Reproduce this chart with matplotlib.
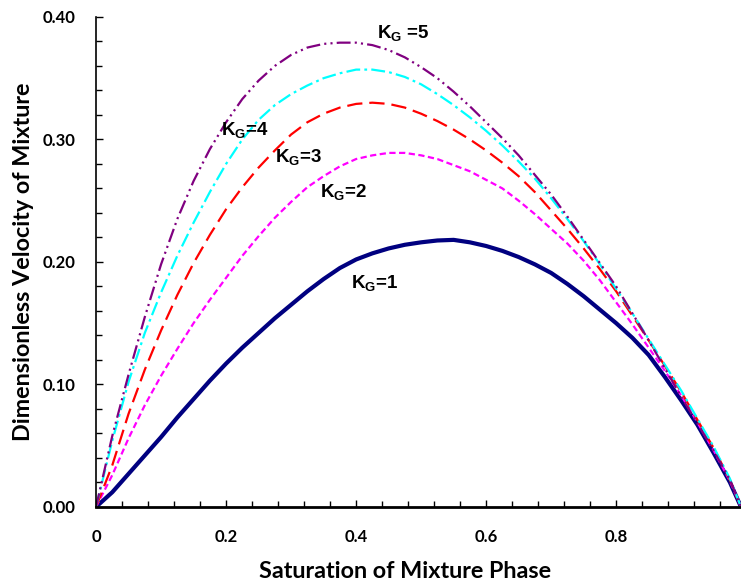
import matplotlib
import matplotlib.pyplot as plt
from matplotlib.ticker import MultipleLocator, FixedLocator, FixedFormatter, FormatStrFormatter

matplotlib.use('Agg')

plt.rcParams['font.family'] = 'Lato'
plt.rcParams['font.weight'] = 'bold'
plt.rcParams['mathtext.fontset'] = 'custom'
plt.rcParams['mathtext.rm'] = 'Liberation Sans:bold'
plt.rcParams['mathtext.it'] = 'Liberation Sans:bold'
plt.rcParams['mathtext.bf'] = 'Liberation Sans:bold'
plt.rcParams['mathtext.default'] = 'rm'
plt.rcParams['lines.scale_dashes'] = False

# Saturation of mixture phase (x) and dimensionless velocity for each K_G
saturation = [0, 0.025, 0.05, 0.075, 0.1, 0.125, 0.15, 0.175, 0.2, 0.225, 0.25, 0.275,
              0.3, 0.325, 0.35, 0.375, 0.4, 0.425, 0.45, 0.475, 0.5, 0.525, 0.55, 0.575,
              0.6, 0.625, 0.65, 0.675, 0.7, 0.725, 0.75, 0.775, 0.8, 0.825, 0.85, 0.875,
              0.9, 0.925, 0.95, 0.975, 0.992]
vel_kg1 = [0, 0.012, 0.027, 0.042, 0.057, 0.073, 0.088, 0.103, 0.117, 0.130, 0.142, 0.154,
           0.165, 0.176, 0.186, 0.195, 0.202, 0.207, 0.211, 0.214, 0.216, 0.2175, 0.218, 0.216,
           0.213, 0.209, 0.204, 0.198, 0.191, 0.182, 0.172, 0.161, 0.150, 0.138, 0.124, 0.106,
           0.087, 0.067, 0.044, 0.020, 0]
vel_kg2 = [0, 0.026, 0.056, 0.083, 0.107, 0.129, 0.150, 0.169, 0.187, 0.205, 0.221, 0.236,
           0.249, 0.261, 0.270, 0.278, 0.284, 0.287, 0.289, 0.289, 0.287, 0.284, 0.279, 0.274,
           0.267, 0.260, 0.250, 0.239, 0.227, 0.215, 0.201, 0.185, 0.167, 0.149, 0.130, 0.111,
           0.091, 0.069, 0.046, 0.021, 0]
vel_kg3 = [0, 0.034, 0.076, 0.112, 0.144, 0.173, 0.199, 0.222, 0.243, 0.261, 0.277, 0.291,
           0.304, 0.314, 0.321, 0.326, 0.329, 0.330, 0.329, 0.326, 0.321, 0.315, 0.308, 0.300,
           0.291, 0.281, 0.270, 0.257, 0.242, 0.227, 0.211, 0.194, 0.176, 0.156, 0.136, 0.115,
           0.094, 0.071, 0.048, 0.022, 0]
vel_kg4 = [0, 0.054, 0.102, 0.142, 0.175, 0.205, 0.232, 0.257, 0.280, 0.300, 0.316, 0.328,
           0.337, 0.344, 0.350, 0.354, 0.357, 0.357, 0.355, 0.351, 0.345, 0.337, 0.328, 0.318,
           0.307, 0.295, 0.282, 0.268, 0.252, 0.235, 0.217, 0.198, 0.178, 0.158, 0.137, 0.116,
           0.095, 0.072, 0.049, 0.023, 0]
vel_kg5 = [0, 0.058, 0.108, 0.155, 0.198, 0.235, 0.266, 0.292, 0.314, 0.333, 0.348, 0.360,
           0.369, 0.375, 0.378, 0.379, 0.379, 0.377, 0.373, 0.367, 0.359, 0.350, 0.339, 0.327,
           0.314, 0.301, 0.287, 0.271, 0.255, 0.237, 0.218, 0.199, 0.180, 0.158, 0.136, 0.113,
           0.090, 0.068, 0.046, 0.022, 0]

x_ticks = [0, 0.2, 0.4, 0.6, 0.8]
x_tick_labels = ['0', '0.2', '0.4', '0.6', '0.8']

fig = plt.figure(figsize=(7.41, 5.84), dpi=100)
ax = fig.add_axes([0.1296, 0.132, 0.8704, 0.839])

# Curves, drawn back to front
ax.plot(saturation, vel_kg1, color='#000080', lw=3.0, solid_capstyle='round', solid_joinstyle='round')
ax.plot(saturation, vel_kg2, color='#FF00FF', lw=1.6, ls=(0, (4.5, 2.5)))
ax.plot(saturation, vel_kg3, color='#FF0000', lw=1.6, ls=(0, (11, 5)))
ax.plot(saturation, vel_kg4, color='#00FFFF', lw=1.6, ls=(0, (10, 3, 2, 3)))
ax.plot(saturation, vel_kg5, color='#800080', lw=1.6, ls=(0, (10, 3, 1.5, 3, 1.5, 3)))

# Curve labels
lbl = dict(fontsize=13.5, family='Liberation Sans', weight='bold', va='center', ha='left')
ax.text(0.432, 0.387, r'K$_\mathrm{G}$ =5', **lbl)
ax.text(0.192, 0.308, r'K$_\mathrm{G}$=4', **lbl)
ax.text(0.275, 0.286, r'K$_\mathrm{G}$=3', **lbl)
ax.text(0.345, 0.257, r'K$_\mathrm{G}$=2', **lbl)
ax.text(0.392, 0.183, r'K$_\mathrm{G}$=1', **lbl)

# Axes
ax.set_xlim(0, 0.992)
ax.set_ylim(0, 0.40)
ax.xaxis.set_major_locator(FixedLocator(x_ticks))
ax.xaxis.set_major_formatter(FixedFormatter(x_tick_labels))
ax.xaxis.set_minor_locator(MultipleLocator(0.04))
ax.yaxis.set_major_locator(MultipleLocator(0.1))
ax.yaxis.set_minor_locator(MultipleLocator(0.02))
ax.yaxis.set_major_formatter(FormatStrFormatter('%.2f'))

ax.tick_params(which='both', direction='in', width=1, labelsize=12)
ax.tick_params(which='major', length=5)
ax.tick_params(which='minor', length=4)
ax.tick_params(axis='y', pad=15)
ax.tick_params(axis='x', pad=16)

for side in ['top', 'right']:
    ax.spines[side].set_visible(False)
ax.spines['left'].set_linewidth(1.2)
ax.spines['bottom'].set_linewidth(2)

ax.set_xlabel('Saturation of Mixture Phase', fontsize=16.8, weight='bold', va='center')
ax.xaxis.set_label_coords(0.479, -0.131)
ax.set_ylabel('Dimensionless Velocity of Mixture', fontsize=16.8, weight='bold', va='center')
ax.yaxis.set_label_coords(-0.113, 0.5)

fig.savefig('out.png', dpi=100)
